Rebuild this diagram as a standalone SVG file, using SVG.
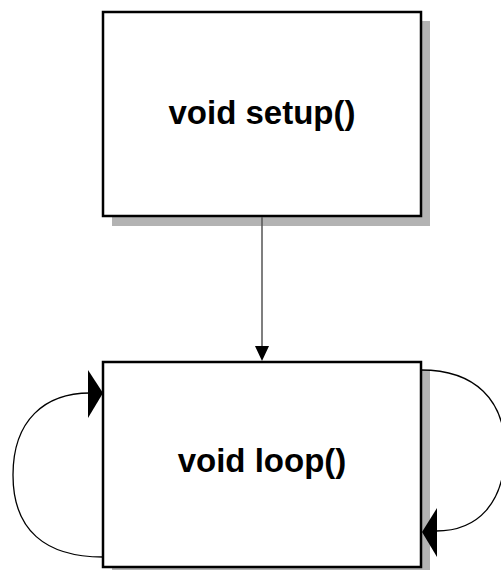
<svg xmlns="http://www.w3.org/2000/svg" width="501" height="570" viewBox="0 0 501 570">
<style>
.shadow{fill:#b3b3b3;stroke:none}
.box{fill:#fff;stroke:#000;stroke-width:2.5}
.lbl{font-family:"Liberation Sans",Arial,sans-serif;font-weight:bold;font-size:33px;fill:#000;text-anchor:middle}
.loop{fill:none;stroke:#000;stroke-width:1.3}
.conn{fill:none;stroke:#555;stroke-width:1.5}
.head{fill:#000;stroke:none}
</style>
<rect width="501" height="570" fill="#fff"/>
<g id="setup">
<rect class="shadow" x="112" y="21" width="318" height="205"/>
<rect class="box" x="103" y="12" width="318" height="204"/>
<text class="lbl" x="262" y="124">void setup()</text>
</g>
<g id="loop">
<rect class="shadow" x="112" y="370" width="318" height="205"/>
<rect class="box" x="103" y="362" width="318" height="205"/>
<text class="lbl" x="262" y="472">void loop()</text>
</g>
<g id="connectors">
<path class="conn" d="M262,217 L262,347"/>
<polygon class="head" points="255,346 269,346 262,361"/>
<path class="loop" d="M103,557 C45,557 13,530 13,475 C13,420 45,393 90,393"/>
<polygon class="head" points="88,370 88,418 103,393"/>
<path class="loop" d="M421,370 C475,370 505,400 505,450 C505,503 478,531 436,531"/>
<polygon class="head" points="437,508 437,557 422,532"/>
</g>
</svg>
